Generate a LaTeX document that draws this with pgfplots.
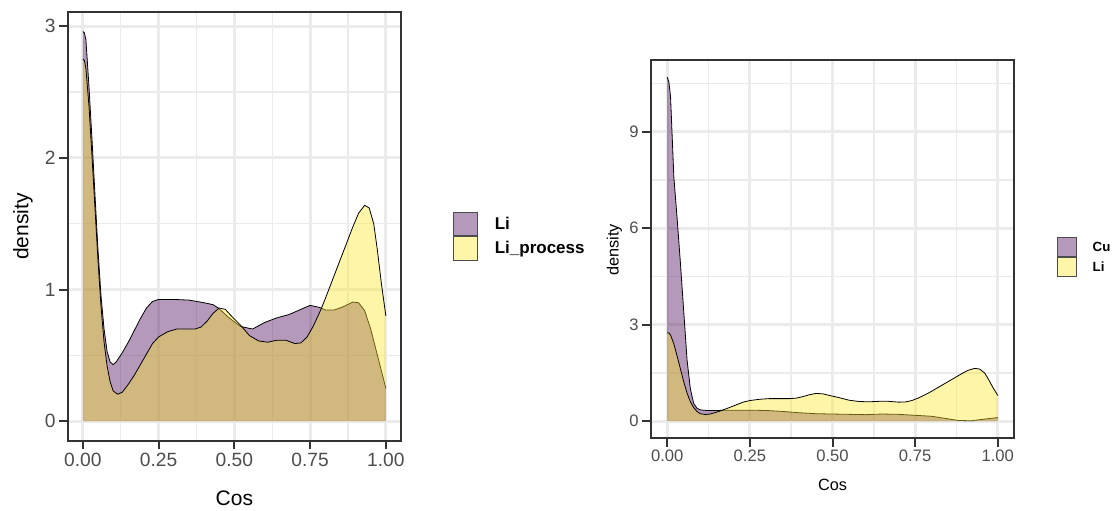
\documentclass[border=0pt]{standalone}
\usepackage{fontspec}
\setmainfont{Liberation Sans}
\usepackage{pgfplots}
\usepackage{pgfplotstable}
\pgfplotsset{compat=1.18}

\definecolor{vpurple}{HTML}{440154}
\definecolor{vyellow}{HTML}{FDE725}
\definecolor{gridgray}{HTML}{EBEBEB}
\definecolor{bordergray}{HTML}{333333}
\definecolor{labgray}{HTML}{4D4D4D}

% left panel: Li
\pgfplotstableread{
x y
0 2.96
0.005 2.95
0.01 2.90
0.02 2.55
0.03 2.15
0.04 1.72
0.05 1.30
0.06 0.95
0.07 0.70
0.08 0.53
0.09 0.45
0.10 0.43
0.11 0.45
0.13 0.52
0.15 0.60
0.17 0.69
0.19 0.78
0.21 0.86
0.23 0.91
0.25 0.925
0.30 0.925
0.35 0.92
0.40 0.90
0.43 0.885
0.45 0.855
0.48 0.79
0.52 0.72
0.56 0.70
0.60 0.75
0.64 0.785
0.68 0.81
0.72 0.85
0.75 0.88
0.78 0.865
0.80 0.845
0.83 0.845
0.86 0.87
0.89 0.905
0.91 0.90
0.93 0.84
0.95 0.70
0.97 0.52
0.99 0.34
1.00 0.25
}\tabLi

% Li_process (also "Li" on the right panel)
\pgfplotstableread{
x y
0 2.75
0.005 2.74
0.01 2.68
0.02 2.40
0.03 2.02
0.04 1.62
0.05 1.22
0.06 0.87
0.07 0.60
0.08 0.42
0.09 0.30
0.10 0.23
0.115 0.205
0.13 0.22
0.15 0.28
0.17 0.35
0.19 0.43
0.21 0.51
0.23 0.59
0.25 0.64
0.28 0.68
0.31 0.70
0.34 0.70
0.37 0.70
0.39 0.715
0.41 0.76
0.43 0.82
0.45 0.86
0.47 0.85
0.49 0.80
0.52 0.73
0.55 0.65
0.58 0.61
0.61 0.60
0.64 0.615
0.67 0.615
0.70 0.59
0.72 0.595
0.74 0.64
0.76 0.72
0.785 0.845
0.80 0.93
0.83 1.11
0.86 1.29
0.89 1.47
0.91 1.58
0.93 1.64
0.945 1.62
0.96 1.50
0.972 1.30
0.985 1.05
1.00 0.80
}\tabProc

% right panel: Cu
\pgfplotstableread{
x y
0 10.7
0.005 10.55
0.01 10.1
0.02 7.6
0.03 6.3
0.04 4.9
0.05 3.4
0.06 1.9
0.07 1.0
0.08 0.55
0.09 0.40
0.10 0.35
0.12 0.33
0.15 0.33
0.18 0.34
0.25 0.34
0.30 0.33
0.35 0.30
0.40 0.26
0.45 0.23
0.50 0.22
0.55 0.21
0.60 0.20
0.65 0.22
0.70 0.21
0.75 0.18
0.80 0.15
0.85 0.07
0.88 0.02
0.92 0.01
0.95 0.05
1.00 0.11
}\tabCu

\pgfplotsset{
  ggpanel/.style={
    scale only axis,
    anchor=south west,
    xmin=-0.05, xmax=1.05,
    xtick={0,0.25,0.5,0.75,1},
    minor xtick={0.125,0.375,0.625,0.875},
    xticklabels={0.00,0.25,0.50,0.75,1.00},
    tick pos=left,
    tick align=outside,
    major tick length=8.5pt,
    minor tick length=0pt,
    major tick style={bordergray, line width=2pt},
    axis line style={bordergray, line width=2.2pt},
    grid=both,
    major grid style={gridgray, line width=3pt},
    minor grid style={gridgray, line width=1.4pt},
    /pgf/number format/assume math mode=true,
    ticklabel style={text=labgray},
    legend image code/.code={\draw[#1] (0pt,-\legkey/2) rectangle (\legkey,\legkey/2);},
    legend cell align=left,
    legend style={draw=none, fill=none, inner sep=0pt, outer sep=0pt,
      anchor=north west, row sep=0pt,
      nodes={inner sep=0pt, outer sep=0pt},
      /tikz/every odd column/.append style={column sep=\leggap}},
  },
  dfill/.style={draw=none, fill=#1, fill opacity=0.4, forget plot},
  dline/.style={black, line width=0.8pt, forget plot},
}

\begin{document}
\begin{tikzpicture}
\useasboundingbox (0,0) rectangle (1113pt,511pt);

\def\legkey{23.4pt}
\def\leggap{17pt}
\begin{axis}[ggpanel,
  at={(67.7pt,70.3pt)}, width=333.3pt, height=428.4pt,
  ymin=-0.148, ymax=3.106,
  ytick={0,1,2,3}, minor ytick={0.5,1.5,2.5},
  ticklabel style={font=\fontsize{19.2}{21}\selectfont},
  xlabel={Cos}, ylabel={density},
  label style={font=\fontsize{21}{24}\selectfont},
  xlabel style={at={(axis description cs:0.5,-0.134)}, anchor=center},
  ylabel style={at={(axis description cs:-0.134,0.5)}, anchor=center, rotate=0},
  legend style={at={(axis description cs:1.157,0.5346)},
    font=\fontsize{17}{20}\selectfont\bfseries},
]
\addplot[dfill=vpurple] table[x=x,y=y] {\tabLi} \closedcycle;
\addplot[dline] table[x=x,y=y] {\tabLi};
\addplot[dfill=vyellow] table[x=x,y=y] {\tabProc} \closedcycle;
\addplot[dline] table[x=x,y=y] {\tabProc};
\addlegendimage{fill=vpurple, fill opacity=0.4, draw=black!70, line width=1.1pt}
\addlegendentry{Li}
\addlegendimage{fill=vyellow, fill opacity=0.4, draw=black!70, line width=1.1pt}
\addlegendentry{Li\_process}
\end{axis}

\def\legkey{18.7pt}
\def\leggap{15.7pt}
\begin{axis}[ggpanel,
  at={(650.7pt,72.7pt)}, width=363.6pt, height=378.3pt,
  ymin=-0.535, ymax=11.235,
  ytick={0,3,6,9}, minor ytick={1.5,4.5,7.5,10.5},
  ticklabel style={font=\fontsize{16.6}{19}\selectfont},
  xlabel={Cos}, ylabel={density},
  label style={font=\fontsize{16.3}{19}\selectfont},
  xlabel style={at={(axis description cs:0.5,-0.123)}, anchor=center},
  ylabel style={at={(axis description cs:-0.0996,0.498)}, anchor=center, rotate=0},
  legend style={at={(axis description cs:1.118,0.5313)},
    font=\fontsize{13.3}{15}\selectfont\bfseries},
]
\addplot[dfill=vpurple] table[x=x,y=y] {\tabCu} \closedcycle;
\addplot[dline] table[x=x,y=y] {\tabCu};
\addplot[dfill=vyellow] table[x=x,y=y] {\tabProc} \closedcycle;
\addplot[dline] table[x=x,y=y] {\tabProc};
\addlegendimage{fill=vpurple, fill opacity=0.4, draw=black!70, line width=1.1pt}
\addlegendentry{Cu}
\addlegendimage{fill=vyellow, fill opacity=0.4, draw=black!70, line width=1.1pt}
\addlegendentry{Li}
\end{axis}
\end{tikzpicture}
\end{document}
